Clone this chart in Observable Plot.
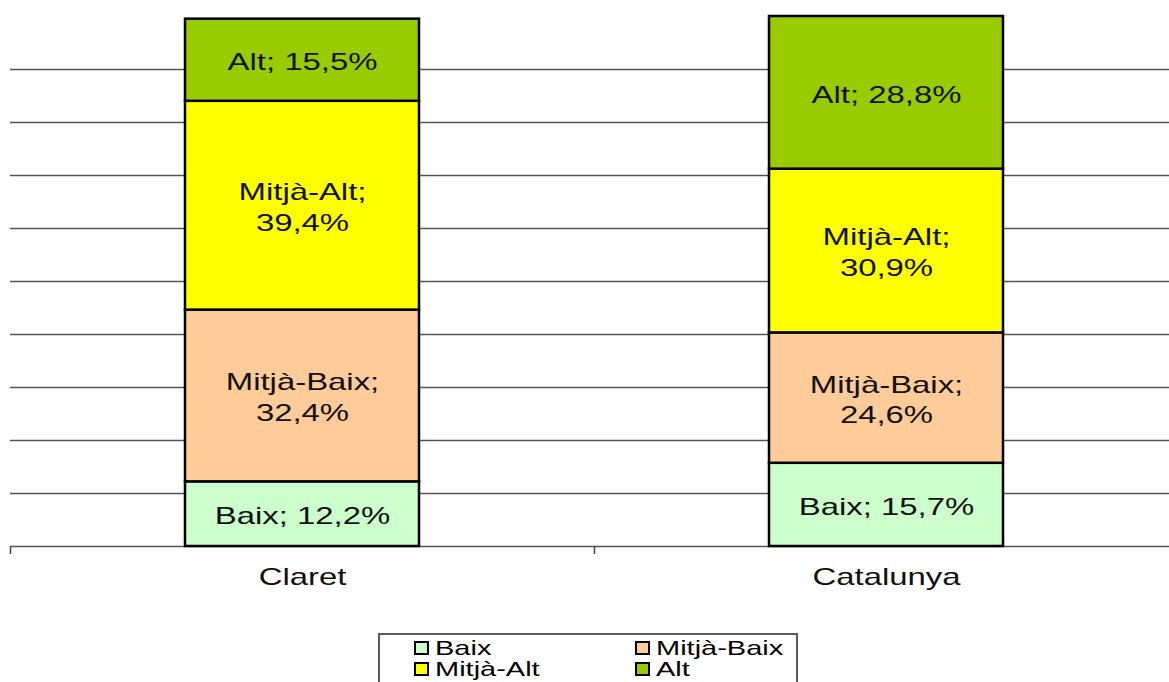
<!DOCTYPE html>
<html>
<head>
<meta charset="utf-8">
<script src="https://cdn.jsdelivr.net/npm/d3@7"></script>
<script src="https://cdn.jsdelivr.net/npm/@observablehq/plot@0.6"></script>
<style>
  html, body { margin: 0; padding: 0; background: #fff; overflow: hidden; }
  body { width: 1169px; height: 682px; position: relative; font-family: "Liberation Sans", Arial, sans-serif; }
  #chart { position: absolute; left: 0; top: 0; }
  #legend { position: absolute; left: 378px; top: 633px; width: 420px; height: 60px; border: 2px solid #5a5a5a; box-sizing: border-box; }
  .item { position: absolute; display: flex; align-items: center; height: 20px; }
  .sw { width: 11px; height: 10px; border: 2px solid #000; margin-right: 6px; }
  .lab { font-size: 21px; color: #000; display: inline-block; transform: scaleX(1.38); transform-origin: left center; line-height: 20px; }
</style>
</head>
<body>
<div id="chart"></div>
<div id="legend"></div>
<script>
const categories = ["Claret", "Catalunya"];
const levels = ["Baix", "Mitjà-Baix", "Mitjà-Alt", "Alt"];
const claretValues = [12.2, 32.4, 39.4, 15.5];
const catalunyaValues = [15.7, 24.6, 30.9, 28.8];
const levelColors = ["#ccffcc", "#ffcc99", "#ffff00", "#99cc00"];
const wrapLabel = [false, true, true, false];
const gridTicks = [10, 20, 30, 40, 50, 60, 70, 80, 90];

const seriesByCategory = [claretValues, catalunyaValues];
const rows = [];
categories.forEach((cat, ci) => {
  levels.forEach((lev, li) => {
    const v = seriesByCategory[ci][li];
    const txt = lev + ";" + (wrapLabel[li] ? "\n" : " ") + v.toFixed(1).replace(".", ",") + "%";
    rows.push({category: cat, level: lev, value: v, label: txt});
  });
});

const xRange = [10, 1178];
const halfStep = (xRange[1] - xRange[0]) / categories.length / 2;
const FONT = "Liberation Sans, Arial, sans-serif";

const plot = Plot.plot({
  width: 1169,
  height: 625,
  marginTop: 16,
  marginBottom: 79,
  marginLeft: 10,
  marginRight: 0,
  style: {fontFamily: FONT, background: "transparent", overflow: "visible"},
  x: {domain: categories, range: xRange, paddingInner: 0.6, paddingOuter: 0.3, axis: null},
  y: {domain: [0, 100], axis: null},
  color: {domain: levels, range: levelColors},
  marks: [
    Plot.ruleY(gridTicks, {stroke: "#555", strokeWidth: 1.5}),
    Plot.ruleY([0], {stroke: "#555", strokeWidth: 1.5}),
    Plot.ruleX(categories, {x: d => d, dx: -halfStep, y1: 0, y2: -1.5, stroke: "#444", strokeWidth: 1.5}),
    Plot.barY(rows, Plot.stackY({x: "category", y: "value", fill: "level", stroke: "#000", strokeWidth: 2.5})),
    Plot.text(rows, Plot.stackY({x: "category", y: "value", text: "label", fontSize: 24, lineHeight: 1.29, fill: "#111", lineAnchor: "middle"})),
    Plot.text(categories, {x: d => d, y: 0, dy: 31, text: d => d, fontSize: 24, fill: "#111", lineAnchor: "middle"})
  ]
});

const S = 1.37;
for (const t of plot.querySelectorAll("text")) {
  const x = +t.getAttribute("x") || 0, y = +t.getAttribute("y") || 0;
  const tr = t.getAttribute("transform") || "";
  t.setAttribute("transform", `${tr} translate(${x},${y}) scale(${S},1) translate(${-x},${-y})`);
}
document.getElementById("chart").appendChild(plot);

const legend = document.getElementById("legend");
const legendPos = [[34, 3], [255, 3], [34, 24], [255, 24]];
levels.forEach((lev, i) => {
  const it = document.createElement("div");
  it.className = "item";
  it.style.left = legendPos[i][0] + "px";
  it.style.top = legendPos[i][1] + "px";
  const sw = document.createElement("span");
  sw.className = "sw";
  sw.style.background = levelColors[i];
  const lab = document.createElement("span");
  lab.className = "lab";
  lab.textContent = lev;
  it.appendChild(sw);
  it.appendChild(lab);
  legend.appendChild(it);
});
</script>
</body>
</html>
